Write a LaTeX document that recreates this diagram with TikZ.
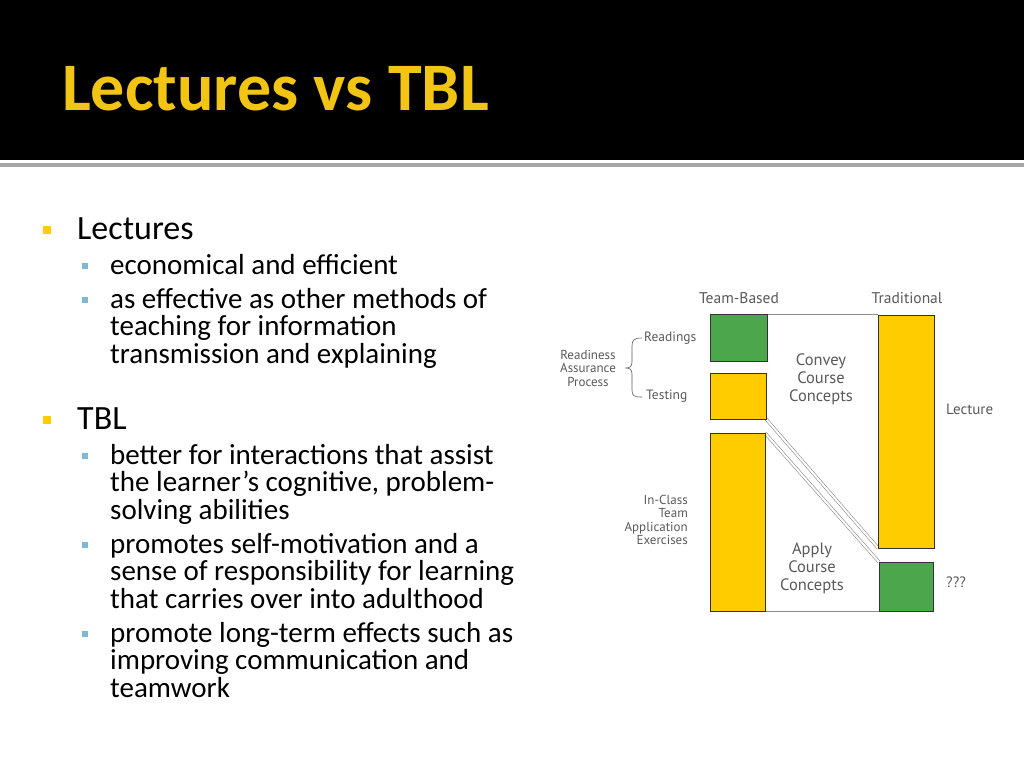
\documentclass[tikz,border=0pt]{standalone}
\usepackage{fontspec}
\setmainfont{Carlito}
\newfontfamily\dfont{PT Sans}
\definecolor{ry}{HTML}{FFCC00}
\definecolor{rg}{HTML}{4CA64C}
\definecolor{ty}{HTML}{F2C414}
\begin{document}
\begin{tikzpicture}[x=1pt,y=-1pt,
  bar/.style={draw=black!80,line width=0.8pt},
  yel/.style={bar,fill=ry},
  grn/.style={bar,fill=rg},
  lbl/.style={font=\dfont\fontsize{13.5}{15}\selectfont,text=black!65,inner sep=0pt},
  big/.style={font=\dfont\fontsize{16.5}{18}\selectfont,text=black!65,inner sep=0pt,align=center},
  l1/.style={anchor=base west,inner sep=0pt,font=\fontsize{34}{36}\selectfont},
  l2/.style={anchor=north west,inner sep=0pt,font=\fontsize{29}{27.5}\selectfont,align=left},
  b1/.style={fill=ry,minimum size=8pt,inner sep=0pt},
  b2/.style={fill=cyan!40!teal!60,minimum size=6pt,inner sep=0pt},
  link/.style={draw=black!45,line width=0.6pt}]
\useasboundingbox (0,0) rectangle (1024,768);
\fill[black] (0,0) rectangle (1024,160);
\fill[black!35] (0,163) rectangle (1024,167);
\node[anchor=base west,inner sep=0pt,text=ty,font=\bfseries\fontsize{68}{70}\selectfont] (title) at (62,110) {Lectures vs TBL};
% bullets
\node[b1] (s1) at (47,230) {};
\node[l1] (t1) at (77,239) {Lectures};
\node[b2] (s2) at (85,266) {};
\node[l2] (t2) at (110,254) {economical and efficient};
\node[b2] (s3) at (85,300) {};
\node[l2] (t3) at (110,288) {as effective as other methods of\\teaching for information\\transmission and explaining};
\node[b1] (s4) at (47,420) {};
\node[l1] (t4) at (77,429) {TBL};
\node[b2] (s5) at (85,456) {};
\node[l2] (t5) at (110,444) {better for interactions that assist\\the learner’s cognitive, problem-\\solving abilities};
\node[b2] (s6) at (85,545) {};
\node[l2] (t6) at (110,533) {promotes self-motivation and a\\sense of responsibility for learning\\that carries over into adulthood};
\node[b2] (s7) at (85,634) {};
\node[l2] (t7) at (110,622) {promote long-term effects such as\\improving communication and\\teamwork};
% diagram
\coordinate (tl) at (767,314); \coordinate (tr) at (878,314);
\coordinate (bl) at (765,611); \coordinate (br) at (879,611);
\coordinate (d1a) at (766,419); \coordinate (d1b) at (878,548);
\coordinate (d2a) at (765,433); \coordinate (d2b) at (879,562);
\draw[link] (tl) -- (tr);
\draw[link] (bl) -- (br);
\draw[link,double=white,double distance=2pt] (d1a) -- (d1b);
\draw[link,double=white,double distance=2pt] (d2a) -- (d2b);
\path[grn] (710,314) rectangle (767,361) node[midway] (read) {};
\path[yel] (710,373) rectangle (766,419) node[midway] (test) {};
\path[yel] (710,433) rectangle (765,611) node[midway] (app) {};
\path[yel] (878,315) rectangle (934,548) node[midway] (lec) {};
\path[grn] (879,562) rectangle (933,611) node[midway] (q) {};
\node[lbl,font=\dfont\fontsize{15.5}{17}\selectfont] (tb) at (739,298) {Team-Based};
\node[lbl,font=\dfont\fontsize{15.5}{17}\selectfont] (tr2) at (907,298) {Traditional};
\node[lbl,anchor=west] (rd) at (644,338) {Readings};
\node[lbl,anchor=west] (ts) at (646,396) {Testing};
\node[lbl,align=center,font=\dfont\fontsize{13}{13.5}\selectfont] (rap) at (588,368) {Readiness\\Assurance\\Process};
\draw[black!65,line width=0.6pt] (642,338) .. controls (634,338) and (632,340) .. (632,346) -- (632,362) .. controls (632,366) and (630,368) .. (626,368) .. controls (630,368) and (632,370) .. (632,374) -- (632,390) .. controls (632,396) and (634,397) .. (642,397);
\node[big] (conv) at (821,379) {Convey\\Course\\Concepts};
\node[lbl,anchor=west,font=\dfont\fontsize{15}{17}\selectfont] (lt) at (946,409) {Lecture};
\node[lbl,align=right,anchor=east,font=\dfont\fontsize{13}{13.5}\selectfont] (inc) at (688,520) {In-Class\\Team\\Application\\Exercises};
\node[big] (apc) at (812,568) {Apply\\Course\\Concepts};
\node[lbl,anchor=west,font=\dfont\fontsize{15}{17}\selectfont] (qq) at (946,582) {???};
\end{tikzpicture}
\end{document}
